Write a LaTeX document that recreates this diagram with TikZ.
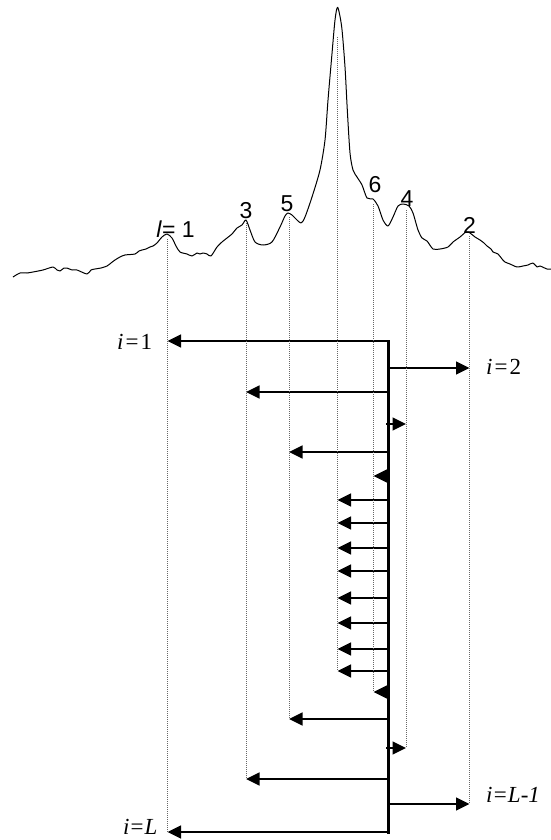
\documentclass[tikz,border=0pt]{standalone}
\usepackage{fontspec}
\setmainfont{Liberation Serif}
\newfontfamily\arialf{Liberation Sans}
\usetikzlibrary{arrows.meta}
\begin{document}
\begin{tikzpicture}[x=1pt,y=-1pt,
  spine/.style={line width=3pt, line cap=rect},
  arr/.style={line width=2.9pt,-{Triangle[length=13.5pt,width=12.5pt]}},
  guide/.style={line width=0.7pt, black!60, dash pattern=on 1pt off 1pt},
  curve/.style={line width=1pt, line join=round},
  peaklbl/.style={font=\arialf\fontsize{23}{27}\selectfont, anchor=base, inner sep=0pt},
  ilbl/.style={font=\fontsize{23}{27}\selectfont, inner sep=0pt, anchor=base west}
]
\useasboundingbox (0,0) rectangle (551,840);

% spectrum curve
\draw[curve] plot[smooth, tension=0.45] coordinates {
(13,277) (20,273) (27,273) (33,272) (43,270) (53,267) (57,270) (60,271) (64,268) (67,268) (72,270) (77,270) (87,274) (91,270) (95,269) (101,268) (107,266) (111,263) (115,260) (120,257) (125,255) (135,254) (139,251) (142,250) (146,249) (150,247) (153,246) (157,243) (162,237) (167,234) (172,238) (176,246) (180,252) (187,254) (192,256) (197,253) (200,254) (203,253) (207,254) (211,256) (217,247) (222,242) (227,238) (232,234) (237,228) (242,225) (246,220) (250,230) (255,242) (263,245) (272,242) (280,227) (285,216) (288,213) (292,215) (295,218) (301,223) (305,217) (312,197) (320,170) (325,140) (328,100) (331.7,57) (335,20) (337.7,7.3) (341.7,27) (345,67) (347.3,110) (350,153) (353,170) (357,177) (362,185) (367,198) (373,199) (378,206) (383,220) (388,226) (393,217) (398,206) (403,204) (409,206) (413,213) (418,230) (422,238) (427,241) (433,249) (440,249) (448,247) (453,242) (460,237) (466,232) (470,233) (475,237) (480,240) (484,243) (487,246) (491,249) (493,252) (498,254) (502,259) (505,262) (510,264) (517,267) (523,266) (528,265) (533,263) (537,267) (540,266) (547,269) (551,269)};

% peak labels
\node[peaklbl] (lab1) at (175.5,237) {\textit{l}= 1};
\node[peaklbl] (lab3) at (246,218) {3};
\node[peaklbl] (lab5) at (287,211) {5};
\node[peaklbl] (lab6) at (375,192) {6};
\node[peaklbl] (lab4) at (407,206) {4};
\node[peaklbl] (lab2) at (469.5,233) {2};

% guide tops (just under the peaks)
\coordinate (g1) at (167.5,239);
\coordinate (g3) at (246,223);
\coordinate (g5) at (289,217);
\coordinate (gc) at (337.5,37);
\coordinate (g6) at (373.5,204);
\coordinate (g4) at (406,210);
\coordinate (g2) at (469.5,236);

% spine
\coordinate (s1) at (388,341);
\coordinate (s20) at (388,832);
\draw[spine] (s1) -- (s20);

% arrows: row / y / tip x / start x
\foreach \n/\yy/\tx/\sx in {1/341/167.5/388, 2/368/469.5/388, 3/392/246/388, 4/424/406/386,
  5/452/289/388, 6/476/373.5/388, 7/500/337.5/388, 8/523/337.5/388, 9/548/337.5/388,
  10/571/337.5/388, 11/598/337.5/388, 12/623/337.5/388, 13/649/337.5/388, 14/671/337.5/388,
  15/692/373.5/388, 16/719/289/388, 17/748/406/386, 18/779/246/388, 19/804/469.5/388, 20/832/167.5/388}{
  \coordinate (a\n) at (\sx,\yy);
  \coordinate (t\n) at (\tx,\yy);
  \draw[arr] (a\n) -- (t\n);
}

% dotted guide lines
\draw[guide] (g1) -- (t20);
\draw[guide] (g3) -- (t18);
\draw[guide] (g5) -- (t16);
\draw[guide] (gc) -- (t14);
\draw[guide] (g6) -- (t15);
\draw[guide] (g4) -- (t17);
\draw[guide] (g2) -- (t19);

% i labels
\node[ilbl] (i1) at (117,349) {\textit{i}\kern2pt=\kern2pt1};
\node[ilbl] (i2) at (486,374) {\textit{i}\kern2pt=\kern2pt2};
\node[ilbl] (iL1) at (486,802.5) {\textit{i}\kern1.2pt=\kern1.2pt\textit{L-1}};
\node[ilbl] (iL) at (123,834) {\textit{i}\kern1pt=\kern1pt\textit{L}};
\end{tikzpicture}
\end{document}
